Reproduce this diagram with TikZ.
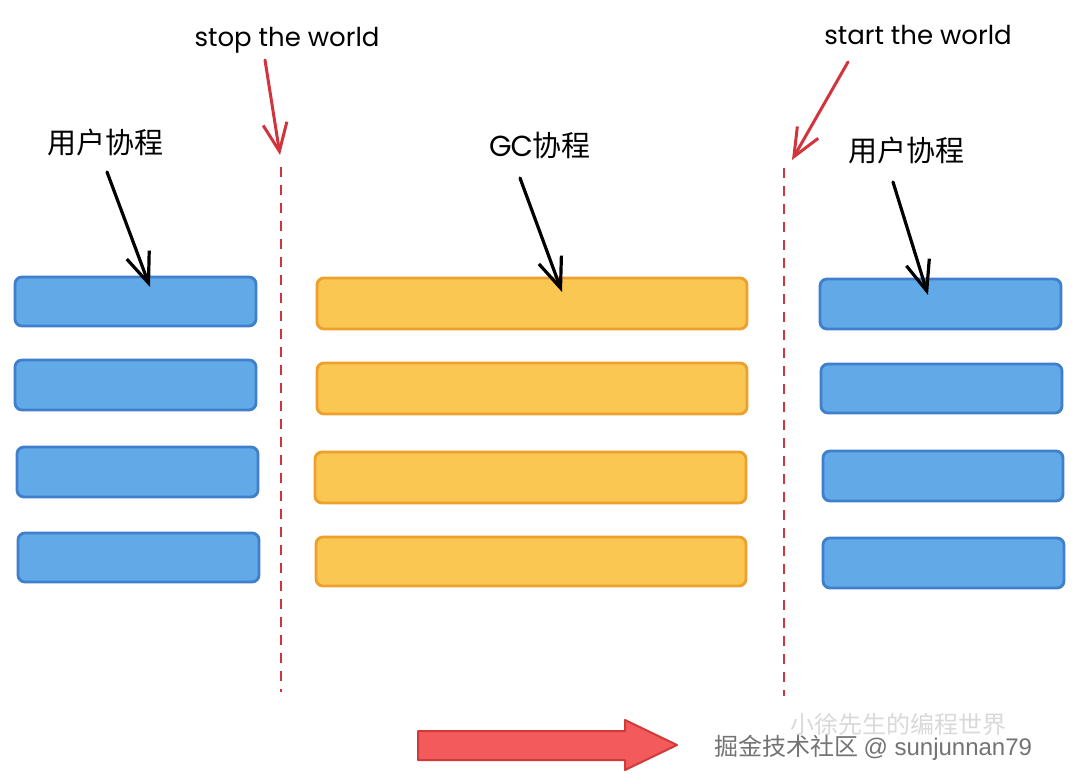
\documentclass[tikz,border=0pt]{standalone}
\usepackage{fontspec}
\setmainfont{Poppins}
\newfontfamily\cjk{Noto Sans CJK SC}
\usetikzlibrary{arrows.meta}
\definecolor{bfill}{HTML}{62A9E8}
\definecolor{bdraw}{HTML}{3F7FCC}
\definecolor{ofill}{HTML}{F9C752}
\definecolor{odraw}{HTML}{EE9F2C}
\definecolor{rline}{HTML}{D0343C}
\definecolor{afill}{HTML}{F25A5C}
\definecolor{adraw}{HTML}{D23A3A}
\tikzset{
  x=1pt,y=-1pt,
  bar/.style={rounded corners=7pt,line width=2.8pt},
  bluebar/.style={bar,fill=bfill,draw=bdraw},
  orabar/.style={bar,fill=ofill,draw=odraw},
  sep/.style={draw=rline,line width=2.8pt,dash pattern=on 10pt off 8pt},
  redarrow/.style={draw=rline,line width=3pt,line cap=round,-{Straight Barb[length=28pt,width=24pt,line width=3pt]}},
  blackarrow/.style={draw=black,line width=3.2pt,line cap=round,-{Straight Barb[length=30pt,width=24pt,line width=3.2pt]}},
  hand/.style={font=\fontsize{26}{30}\selectfont,inner sep=0pt},
  cn/.style={font=\cjk\fontsize{29}{32}\selectfont,inner sep=0pt},
}
\begin{document}
\begin{tikzpicture}
\useasboundingbox (0,0) rectangle (1080,784);
\fill[white] (0,0) rectangle (1080,784);
% left user bars
\path[bluebar] (15,277) rectangle (256,326);
\path[bluebar] (15,360) rectangle (256,410);
\path[bluebar] (17,447) rectangle (258,497);
\path[bluebar] (18,533) rectangle (259,582);
% gc bars
\path[orabar] (317,278) rectangle (747,329);
\path[orabar] (317,363) rectangle (747,414);
\path[orabar] (315,452) rectangle (746,503);
\path[orabar] (316,537) rectangle (746,586);
% right user bars
\path[bluebar] (820,279) rectangle (1061,329);
\path[bluebar] (821,364) rectangle (1062,413);
\path[bluebar] (823,451) rectangle (1063,501);
\path[bluebar] (823,538) rectangle (1064,588);
% separators
\coordinate (s1t) at (281,167); \coordinate (s1b) at (281,692);
\coordinate (s2t) at (784,168); \coordinate (s2b) at (784,696);
\draw[sep] (s1t) -- (s1b);
\draw[sep] (s2t) -- (s2b);
% labels
\node[hand] (stop) at (287,40) {stop the world};
\node[hand] (start) at (918,35) {start the world};
\coordinate (stopa) at (265,60); \coordinate (stopb) at (280,155);
\coordinate (starta) at (848,62); \coordinate (startb) at (792,160);
\draw[redarrow] (stopa) -- (stopb);
\draw[redarrow] (starta) -- (startb);
\node[cn] (u1) at (105,142) {用户协程};
\node[font=\fontsize{29}{32}\selectfont,inner sep=0pt] (gc) at (540,145) {G\kern-1pt C{\cjk 协程}};
\node[cn] (u2) at (906,150) {用户协程};
\coordinate (u1a) at (107,172); \coordinate (u1b) at (150,287);
\coordinate (gca) at (520,178); \coordinate (gcb) at (562,292);
\coordinate (u2a) at (893,182); \coordinate (u2b) at (928,295);
\draw[blackarrow] (u1a) -- (u1b);
\draw[blackarrow] (gca) -- (gcb);
\draw[blackarrow] (u2a) -- (u2b);
% time arrow
\draw[fill=afill,draw=adraw,line width=2pt,line join=round]
  (418,731) -- (625,731) -- (625,720) -- (677,745) -- (625,770) -- (625,760) -- (418,760) -- cycle;
% watermark
\node[font=\cjk\fontsize{24}{26}\selectfont,text=black!15,inner sep=0pt,anchor=west] (wm1) at (790,724) {小徐先生的编程世界};
\node[font=\cjk\fontsize{24}{26}\selectfont,text=black!55,inner sep=0pt,anchor=west] (wm2) at (714,748) {掘金技术社区 {\fontspec{Liberation Sans}@ sunjunnan79}};
\end{tikzpicture}
\end{document}
